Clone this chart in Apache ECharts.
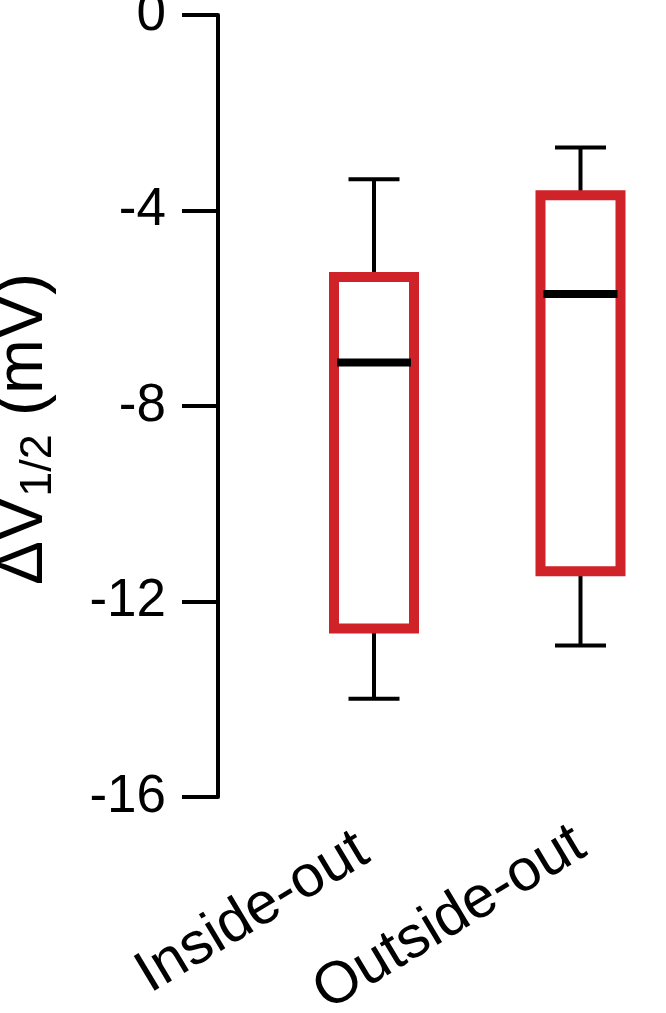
<!DOCTYPE html>
<html>
<head>
<meta charset="utf-8">
<script src="https://cdn.jsdelivr.net/npm/echarts@6/dist/echarts.min.js"></script>
<style>
html,body{margin:0;padding:0;background:#fff;}
#chart{width:666px;height:1013px;}
</style>
</head>
<body>
<div id="chart"></div>
<script>
const categories = ['Inside-out', 'Outside-out'];
const whiskerMin = [-13.99, -12.9];
const q1 = [-12.55, -11.38];
const medians = [-7.11, -5.71];
const q3 = [-5.36, -3.69];
const whiskerMax = [-3.36, -2.71];
const yTicks = [0, -4, -8, -12, -16];

const FONT = 'Liberation Sans, Arial, sans-serif';
const RED = '#cf2229';

const boxData = categories.map((c, i) => [i, whiskerMin[i], q1[i], medians[i], q3[i], whiskerMax[i]]);
const labelPad = [[0, 12, 0, 0], [0, 0, 0, 0]];

const chart = echarts.init(document.getElementById('chart'));
chart.setOption({
  animation: false,
  backgroundColor: '#fff',
  grid: { left: 374, right: 85.5, top: 15, bottom: 216, containLabel: false, outerBoundsMode: 'none' },
  xAxis: {
    type: 'category',
    data: categories.map((c, i) => ({ value: c, textStyle: { padding: labelPad[i] } })),
    boundaryGap: false,
    axisLine: { show: false },
    axisTick: { show: false },
    splitLine: { show: false },
    axisLabel: { rotate: 31, fontSize: 59, color: '#000', fontFamily: FONT, margin: 43 }
  },
  yAxis: {
    type: 'value',
    min: yTicks[yTicks.length - 1],
    max: yTicks[0],
    interval: 4,
    offset: 156,
    splitLine: { show: false },
    axisLine: { show: true, lineStyle: { color: '#000', width: 4 } },
    axisTick: { show: true, length: 36, lineStyle: { color: '#000', width: 4 } },
    axisLabel: { fontSize: 53, color: '#000', fontFamily: FONT, margin: 52 },
    name: '{d|ΔV}{s|1/2}{d| (mV)}',
    nameLocation: 'middle',
    nameGap: 157,
    nameTextStyle: {
      padding: [0, 46, 0, 0],
      rich: {
        d: { fontSize: 66, color: '#000', fontFamily: FONT, lineHeight: 74 },
        s: { fontSize: 45, color: '#000', fontFamily: FONT, lineHeight: 45, verticalAlign: 'bottom', padding: [37, 0, 0, 0] }
      }
    }
  },
  series: [{
    type: 'custom',
    data: boxData,
    renderItem: function (params, api) {
      const idx = api.value(0);
      const x = api.coord([idx, 0])[0];
      const y = v => api.coord([idx, v])[1];
      const yMin = y(api.value(1)), yQ1 = y(api.value(2)), yMed = y(api.value(3)),
            yQ3 = y(api.value(4)), yMax = y(api.value(5));
      const halfBox = 40, halfCap = 25.5, halfMed = 37;
      const blk = { stroke: '#000', lineWidth: 4 };
      return {
        type: 'group',
        children: [
          { type: 'line', shape: { x1: x, y1: yMax, x2: x, y2: yQ3 }, style: blk },
          { type: 'line', shape: { x1: x, y1: yQ1, x2: x, y2: yMin }, style: blk },
          { type: 'line', shape: { x1: x - halfCap, y1: yMax, x2: x + halfCap, y2: yMax }, style: blk },
          { type: 'line', shape: { x1: x - halfCap, y1: yMin, x2: x + halfCap, y2: yMin }, style: blk },
          { type: 'rect', shape: { x: x - halfBox, y: yQ3, width: 2 * halfBox, height: yQ1 - yQ3 },
            style: { fill: 'none', stroke: RED, lineWidth: 10 } },
          { type: 'line', shape: { x1: x - halfMed, y1: yMed, x2: x + halfMed, y2: yMed },
            style: { stroke: '#000', lineWidth: 8 } }
        ]
      };
    }
  }]
});
</script>
</body>
</html>
